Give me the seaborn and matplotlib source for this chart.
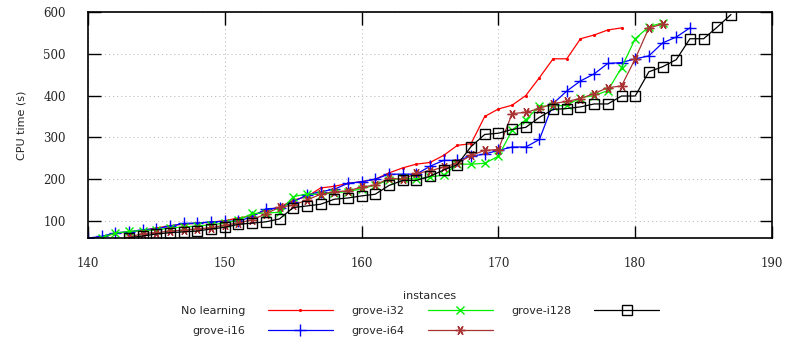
import matplotlib
matplotlib.use("Agg")
import matplotlib.pyplot as plt
import seaborn as sns
import pandas as pd
import numpy as np

# ---- data ----
x_nolearn = list(range(141, 180))
y_nolearn = [62, 70, 74, 78, 83, 89, 92, 95, 97, 101, 107, 113, 126, 133, 150, 158,
             179, 183, 190, 194, 200, 215, 227, 236, 240, 257, 281, 285, 350, 368,
             377, 400, 443, 488, 488, 536, 545, 557, 562]

x_i16 = list(range(140, 185))
y_i16 = [59.3, 63, 72, 74, 79, 81, 88, 94, 95, 98, 99, 100, 110, 129, 131, 146,
         162, 170, 176, 190, 194, 200, 212, 212, 212, 231, 245, 245, 255, 260,
         269, 277, 277, 295, 381, 411, 435, 452, 477, 479, 488, 495, 526, 540, 562]

x_i32 = list(range(141, 183))
y_i32 = [60, 71, 75, 77, 79, 83, 86, 88, 91, 95, 102, 118, 119, 121, 158, 165,
         163, 168, 170, 177, 186, 198, 202, 200, 205, 210, 236, 236, 238, 255,
         317, 342, 375, 375, 377, 395, 400, 412, 467, 536, 565, 574]

x_i64 = list(range(143, 183))
y_i64 = [61, 70, 72, 76, 78, 81, 84, 90, 95, 103, 117, 133, 138, 150, 164, 170,
         172, 181, 186, 202, 200, 214, 220, 229, 238, 257, 269, 271, 357, 360,
         369, 381, 386, 393, 405, 419, 423, 488, 562, 571]

x_i128 = list(range(143, 188))
y_i128 = [60, 64, 69, 72, 74, 76, 81, 85, 92, 95, 98, 105, 132, 136, 140, 152,
          155, 160, 164, 185, 197, 197, 207, 222, 235, 278, 307, 310, 319, 324,
          348, 367, 369, 373, 380, 380, 399, 399, 457, 469, 486, 536, 536, 564, 594]

series_names = ["No learning", "grove-i16", "grove-i32", "grove-i64", "grove-i128"]
xs = [x_nolearn, x_i16, x_i32, x_i64, x_i128]
ys = [y_nolearn, y_i16, y_i32, y_i64, y_i128]

colors = ["#ff0000", "#0000ff", "#00ee00", "#a83232", "#000000"]
markers = [".", "+", "x", (6, 2, 90), "s"]
msizes = [2.5, 8, 5.5, 7, 7.5]

x_ticks = [140, 150, 160, 170, 180, 190]
y_ticks = [100, 200, 300, 400, 500, 600]

# ---- figure ----
sns.set_theme(style="white")
plt.rcParams["font.family"] = ["DejaVu Sans"]

fig = plt.figure(figsize=(7.85, 3.39), dpi=100)
ax = fig.add_axes([88 / 785, 1 - 238 / 339, (772 - 88) / 785, (238 - 12) / 339])

handles = []
for name, xv, yv, c, m, ms in zip(series_names, xs, ys, colors, markers, msizes):
    df = pd.DataFrame({"x": xv, "y": yv})
    sns.lineplot(data=df, x="x", y="y", ax=ax, color=c, linewidth=0.9,
                 marker=m, markersize=ms, markeredgecolor=c, markerfacecolor="none"
                 if m == "s" else c, markeredgewidth=1.0, sort=False,
                 estimator=None, label=name, legend=False)
    handles.append(ax.lines[-1])

ax.set_xlim(140, 190)
ax.set_ylim(59.3, 600)
ax.set_xticks(x_ticks)
ax.set_yticks(y_ticks)
ax.set_xticklabels([str(t) for t in x_ticks], family="DejaVu Serif", fontsize=8.5)
ax.set_yticklabels([str(t) for t in y_ticks], family="DejaVu Serif", fontsize=8.5)

ax.tick_params(axis="both", direction="in", length=9, width=1.0, color="black",
               top=True, right=True, bottom=True, left=True)
ax.tick_params(axis="x", pad=14)
ax.tick_params(axis="y", pad=16)

ax.grid(True, linestyle=(0, (1.2, 3)), color="#bdbdbd", linewidth=0.7)
for s in ax.spines.values():
    s.set_color("black")
    s.set_linewidth(1.2)

ax.set_xlabel("instances", fontsize=8, labelpad=15)
ax.set_ylabel("CPU time (s)", fontsize=8, labelpad=12)

fig.legend(handles=handles, labels=series_names, ncol=3, loc="center",
           bbox_to_anchor=(420 / 785, 1 - 321 / 339), frameon=False,
           fontsize=8, markerfirst=False, handlelength=5.85, handletextpad=2.05,
           columnspacing=1.7, labelspacing=0.85, borderpad=0.1)

fig.savefig("out.png", dpi=100)
